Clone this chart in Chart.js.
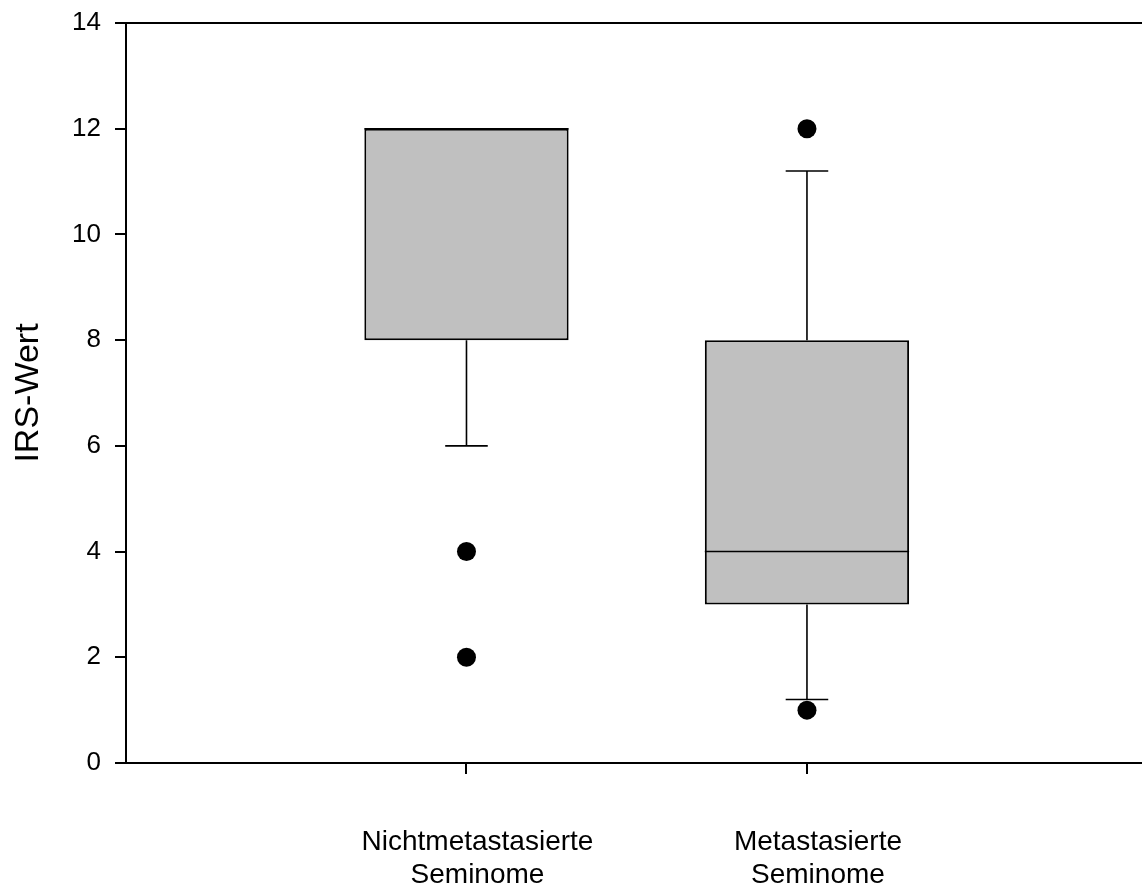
<!DOCTYPE html>
<html>
<head>
<meta charset="utf-8">
<title>IRS-Wert Boxplot</title>
<script src="https://cdn.jsdelivr.net/npm/chart.js@4/dist/chart.umd.min.js"></script>
<style>
  html, body { margin: 0; padding: 0; background: #ffffff; }
  #wrap { width: 1142px; height: 888px; position: relative; }
</style>
</head>
<body>
<div id="wrap"><canvas id="chart"></canvas></div>
<script>
// Group labels (two lines each)
const groupLabels = [
  ['Nichtmetastasierte', 'Seminome'],
  ['Metastasierte', 'Seminome']
];

// Box statistics per group
const lowerQuartile = [8, 3];
const medianValue   = [12, 4];
const upperQuartile = [12, 8];
const whiskerLow    = [6, 1.2];
const whiskerHigh   = [12, 11.2];

// Outlying observations per group
const outlierValues = [
  [4, 2],
  [12, 1]
];

// Y axis range and ticks
const yMin = 0;
const yMax = 14;
const yStep = 2;

// X axis range (group i sits at x = i + 1; the frame is cut just short of 3)
const xMin = 0;
const xMax = 2.984;

// Box and cap widths
const boxWidthFraction = 0.6;   // of the spacing between groups
const capWidth = 0.125;         // in x-axis units

const FONT = "'Liberation Sans', Arial, Helvetica, sans-serif";
const INK = '#000000';

const positions = groupLabels.map((_, i) => i + 1);

// Floating bars: lower to upper quartile
const boxData = positions.map((x, i) => ({ x: x, y: [lowerQuartile[i], upperQuartile[i]] }));

// Median segments, whiskers and caps as one broken line path
const segments = [];
function addSegment(x1, y1, x2, y2) {
  segments.push({ x: x1, y: y1 }, { x: x2, y: y2 }, { x: x2, y: null });
}
positions.forEach((x, i) => {
  const half = boxWidthFraction / 2;
  addSegment(x - half, medianValue[i], x + half, medianValue[i]);
  if (whiskerHigh[i] > upperQuartile[i]) {
    addSegment(x, upperQuartile[i], x, whiskerHigh[i]);
    addSegment(x - capWidth / 2, whiskerHigh[i], x + capWidth / 2, whiskerHigh[i]);
  }
  if (whiskerLow[i] < lowerQuartile[i]) {
    addSegment(x, lowerQuartile[i], x, whiskerLow[i]);
    addSegment(x - capWidth / 2, whiskerLow[i], x + capWidth / 2, whiskerLow[i]);
  }
});

const outlierData = [];
positions.forEach((x, i) => {
  outlierValues[i].forEach(v => outlierData.push({ x: x, y: v }));
});

new Chart(document.getElementById('chart'), {
  data: {
    datasets: [
      {
        type: 'scatter',
        label: 'Ausreißer',
        data: outlierData,
        pointRadius: 9.5,
        pointHoverRadius: 9.5,
        pointBackgroundColor: INK,
        pointBorderColor: INK,
        pointBorderWidth: 0,
        clip: false,
        order: 0
      },
      {
        type: 'line',
        label: 'Whisker',
        data: segments,
        borderColor: INK,
        borderWidth: 1.6,
        pointRadius: 0,
        pointHoverRadius: 0,
        spanGaps: false,
        fill: false,
        tension: 0,
        order: 1
      },
      {
        type: 'bar',
        label: 'Box',
        data: boxData,
        backgroundColor: '#c0c0c0',
        borderColor: INK,
        borderWidth: 2,
        borderSkipped: false,
        categoryPercentage: 1,
        barPercentage: boxWidthFraction,
        order: 2
      }
    ]
  },
  options: {
    responsive: true,
    maintainAspectRatio: false,
    animation: false,
    events: [],
    layout: { autoPadding: false, padding: { top: 23, right: 0, bottom: 0, left: 0 } },
    plugins: {
      legend: { display: false },
      tooltip: { enabled: false }
    },
    scales: {
      x: {
        type: 'linear',
        position: 'bottom',
        min: xMin,
        max: xMax,
        offset: false,
        afterBuildTicks: (scale) => {
          scale.ticks = positions.map(v => ({ value: v }));
        },
        afterFit: (scale) => {
          scale.height = 125;
          scale.paddingLeft = 0;
          scale.paddingRight = 0;
        },
        ticks: {
          color: INK,
          font: { family: FONT, size: 28, lineHeight: 1.2 },
          padding: 51,
          labelOffset: 11,
          maxRotation: 0,
          autoSkip: false,
          callback: (value) => groupLabels[value - 1] || ''
        },
        grid: {
          display: true,
          offset: false,
          drawOnChartArea: false,
          drawTicks: true,
          tickLength: 11,
          color: INK,
          lineWidth: 2
        },
        border: { display: true, color: INK, width: 2 }
      },
      xTop: {
        type: 'linear',
        position: 'top',
        min: xMin,
        max: xMax,
        offset: false,
        afterFit: (scale) => { scale.height = 0; },
        ticks: { display: false },
        grid: { display: false, drawTicks: false, offset: false },
        border: { display: true, color: INK, width: 2 }
      },
      y: {
        type: 'linear',
        min: yMin,
        max: yMax,
        afterFit: (scale) => {
          scale.width = 126;
          scale.paddingTop = 0;
          scale.paddingBottom = 0;
        },
        ticks: {
          stepSize: yStep,
          color: INK,
          font: { family: FONT, size: 26 },
          padding: 14
        },
        grid: {
          display: true,
          drawOnChartArea: false,
          drawTicks: true,
          tickLength: 11,
          color: INK,
          lineWidth: 2
        },
        border: { display: true, color: INK, width: 2 },
        title: {
          display: true,
          text: 'IRS-Wert',
          color: INK,
          font: { family: FONT, size: 34 },
          padding: { top: 8, bottom: 12 }
        }
      }
    }
  }
});
</script>
</body>
</html>
